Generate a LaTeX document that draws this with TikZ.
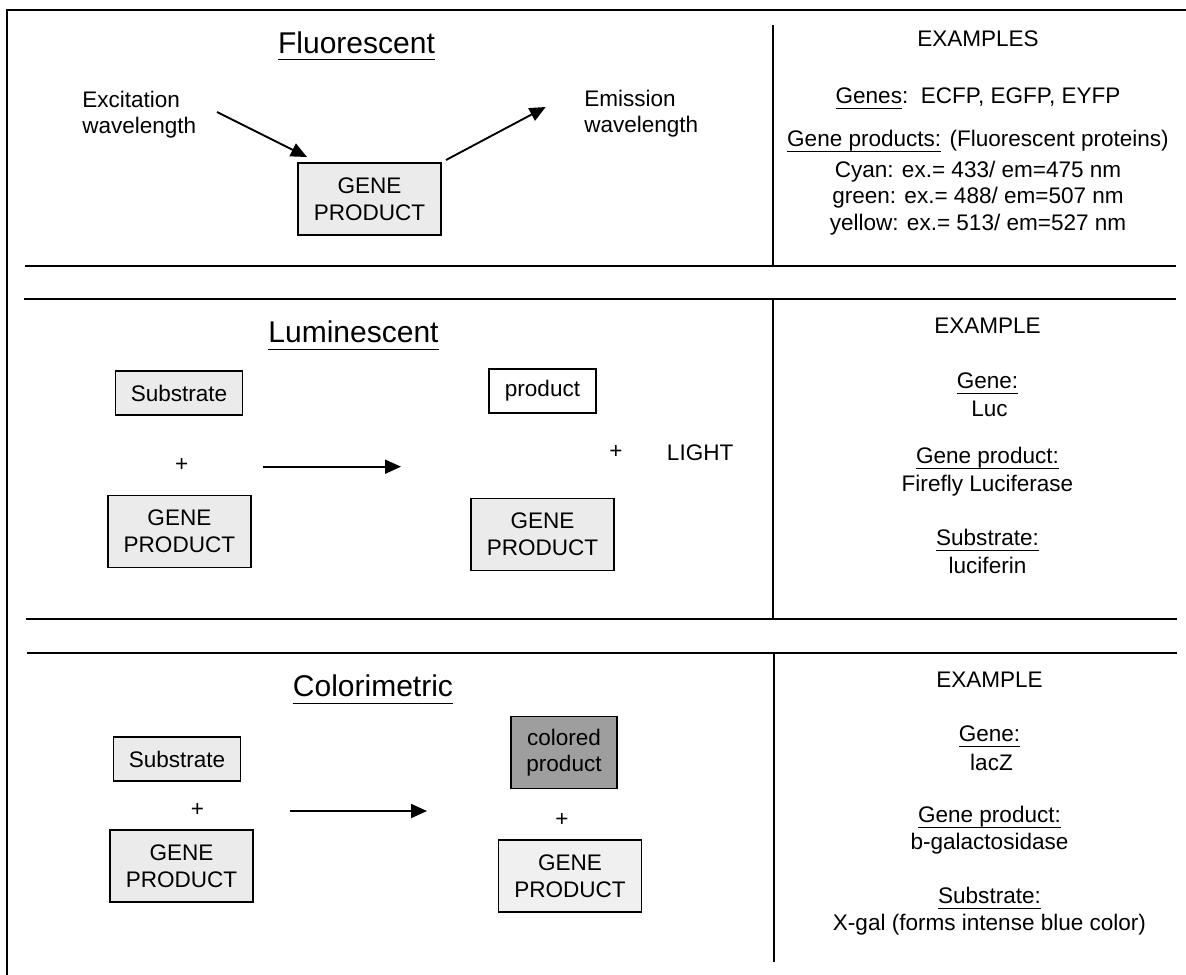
\documentclass[tikz,border=0pt]{standalone}
\usepackage{fontspec}
\setmainfont{Liberation Sans}
\usetikzlibrary{arrows.meta}
\newcommand\ulword[1]{\setbox0\hbox{#1}\rlap{\raisebox{-4.2pt}{\rule{\wd0}{0.8pt}}}#1}
\newcommand\ultitle[1]{\setbox0\hbox{#1}\rlap{\raisebox{-5.6pt}{\rule{\wd0}{0.9pt}}}#1}
\tikzset{
  body/.style={font=\fontsize{16.9}{19.9}\selectfont, inner sep=0pt},
  ttl/.style={font=\fontsize{22.5}{27}\selectfont, inner sep=0pt, anchor=base},
  txt/.style={body, anchor=base},
  ltxt/.style={body, anchor=base west},
  gbox/.style={draw, line width=1.3pt, fill=black!8, align=center, body},
  genebox/.style={gbox, minimum width=107.25pt, minimum height=54pt},
  subbox/.style={gbox, minimum width=95.25pt, minimum height=33pt},
  sepline/.style={line width=1.4pt},
  frame/.style={line width=2pt},
  arr/.style={line width=1.4pt, -{Triangle[length=12pt,width=10.5pt]}},
  plus/.style={body, anchor=center},
}
\begin{document}
\begin{tikzpicture}[x=0.75pt, y=-0.75pt]
\useasboundingbox (0,0) rectangle (1186,975);
\fill[white] (0,0) rectangle (1186,975);

% frame and separators
\coordinate (tl) at (7,10);
\coordinate (tr) at (1186,10);
\coordinate (bl) at (7,975);
\draw[frame] (bl) -- (tl) -- (tr);
\coordinate (l1a) at (25,266);  \coordinate (l1b) at (1176,266);
\coordinate (l2a) at (24,299);  \coordinate (l2b) at (1176,299);
\coordinate (l3a) at (26,619);  \coordinate (l3b) at (1177,619);
\coordinate (l4a) at (27,653);  \coordinate (l4b) at (1177,653);
\draw[sepline] (l1a) -- (l1b);
\draw[sepline] (l2a) -- (l2b);
\draw[sepline] (l3a) -- (l3b);
\draw[sepline] (l4a) -- (l4b);
\coordinate (d1a) at (773,25);  \coordinate (d1b) at (773,266);
\coordinate (d2a) at (773,299); \coordinate (d2b) at (773,619);
\coordinate (d3a) at (774,653); \coordinate (d3b) at (774,962);
\draw[sepline] (d1a) -- (d1b);
\draw[sepline] (d2a) -- (d2b);
\draw[sepline] (d3a) -- (d3b);

% ---------- Section 1: Fluorescent ----------
\node[ttl] (t1) at (356.5,53) {\ultitle{Fluorescent}};
\node[ltxt] (exc1) at (82,107) {Excitation};
\node[ltxt] (exc2) at (82,133) {wavelength};
\node[ltxt] (emi1) at (584,106) {Emission};
\node[ltxt] (emi2) at (584,132) {wavelength};
\node[genebox] (gp1) at (369.5,199) {GENE\\PRODUCT};
\coordinate (a1s) at (217,112);
\coordinate (a1e) at (307,157);
\coordinate (a2s) at (446,160);
\coordinate (a2e) at (545.7,107);
\draw[arr] (a1s) -- (a1e);
\draw[arr] (a2s) -- (a2e);

\node[txt] (x1a) at (978,46.5) {EXAMPLES};
\node[txt] (x1b) at (978,103) {\ulword{Genes}:~~ECFP, EGFP, EYFP};
\node[txt] (x1c) at (978,146.5) {\ulword{Gene products:} (Fluorescent proteins)};
\node[txt] (x1d) at (978,177) {Cyan: ex.= 433/ em=475 nm};
\node[txt] (x1e) at (978,203.5) {green: ex.= 488/ em=507 nm};
\node[txt] (x1f) at (978,230) {yellow: ex.= 513/ em=527 nm};

% ---------- Section 2: Luminescent ----------
\node[ttl] (t2) at (353.5,342.7) {\ultitle{Luminescent}};
\node[subbox] (sub2) at (179,393) {Substrate};
\node[plus] (p2a) at (181.7,465) {+};
\node[genebox] (gp2a) at (179.4,531.5) {GENE\\PRODUCT};
\coordinate (a3s) at (263,466.7);
\coordinate (a3e) at (401,466.7);
\draw[arr] (a3s) -- (a3e);
\node[gbox, fill=white, minimum width=80.25pt, minimum height=33pt] (prod2) at (542.5,391) {product};
\node[genebox] (gp2b) at (542.5,534.5) {GENE\\PRODUCT};
\node[plus] (p2b) at (616,452.3) {+};
\node[ltxt] (light) at (666.7,460) {LIGHT};

\node[txt] (x2a) at (987.5,333) {EXAMPLE};
\node[txt] (x2b) at (987.5,388) {\ulword{Gene:}};
\node[txt] (x2c) at (989.5,416) {Luc};
\node[txt] (x2d) at (987.5,463) {\ulword{Gene product:}};
\node[txt] (x2e) at (987.5,491) {Firefly Luciferase};
\node[txt] (x2f) at (987.5,545) {\ulword{Substrate:}};
\node[txt] (x2g) at (987.5,573) {luciferin};

% ---------- Section 3: Colorimetric ----------
\node[ttl] (t3) at (373,696.7) {\ultitle{Colorimetric}};
\node[subbox] (sub3) at (177,759) {Substrate};
\node[plus] (p3a) at (197.5,810) {+};
\node[genebox] (gp3a) at (181.5,866) {GENE\\PRODUCT};
\coordinate (a4s) at (290,811);
\coordinate (a4e) at (427,811);
\draw[arr] (a4s) -- (a4e);
\node[gbox, fill=black!38, minimum width=79.5pt, minimum height=54pt] (col3) at (564,752.5) {colored\\product};
\node[plus] (p3b) at (562,820) {+};
\node[genebox, fill=black!6] (gp3b) at (570,876) {GENE\\PRODUCT};

\node[txt] (x3a) at (989.5,687) {EXAMPLE};
\node[txt] (x3b) at (989.5,741) {\ulword{Gene:}};
\node[txt] (x3c) at (991.5,770) {lacZ};
\node[txt] (x3d) at (989.5,822) {\ulword{Gene product:}};
\node[txt] (x3e) at (989.5,849) {b-galactosidase};
\node[txt] (x3f) at (989.5,903) {\ulword{Substrate:}};
\node[txt] (x3g) at (989.5,930) {X-gal (forms intense blue color)};
\end{tikzpicture}
\end{document}
